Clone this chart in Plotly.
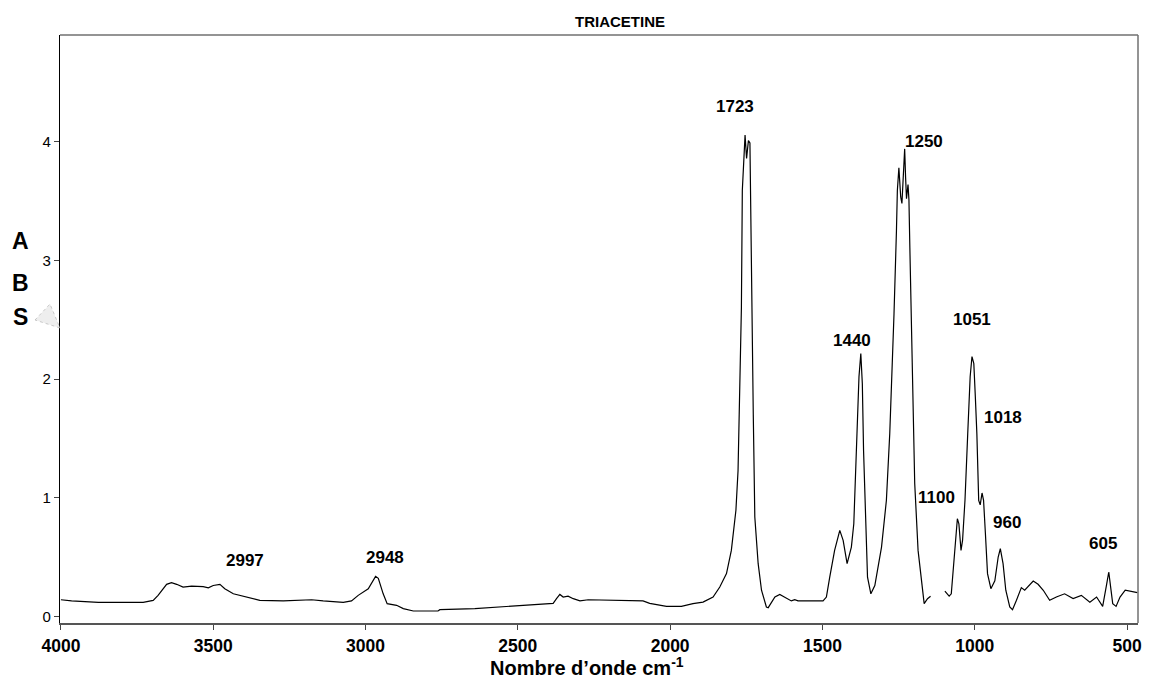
import plotly.graph_objects as go

# ---- data ----
wavenumber = [4000, 3965, 3877, 3730, 3697, 3681, 3653, 3637, 3620, 3599, 3571, 3533, 3516, 3500,
              3478, 3462, 3434, 3402, 3347, 3270, 3177, 3139, 3073, 3046, 3024, 2991, 2977, 2967,
              2958, 2942, 2929, 2898, 2876, 2843, 2762, 2756, 2641, 2537, 2461, 2384, 2373, 2362,
              2351, 2335, 2318, 2296, 2269, 2187, 2089, 2067, 2012, 1963, 1925, 1892, 1859, 1837,
              1815, 1799, 1784, 1777, 1771, 1766, 1763, 1757, 1754, 1749, 1743, 1738, 1736, 1733,
              1727, 1722, 1711, 1700, 1684, 1678, 1656, 1640, 1618, 1602, 1591, 1580, 1498, 1487,
              1476, 1460, 1443, 1432, 1419, 1405, 1397, 1389, 1380, 1374, 1369, 1365, 1359, 1352,
              1341, 1328, 1306, 1290, 1279, 1270, 1265, 1257, 1254, 1249, 1243, 1239, 1235, 1230,
              1227, 1224, 1219, 1216, 1213, 1209, 1205, 1203, 1197, 1186, 1175, 1166, 1155, 1145,
              1120,
              1098, 1084, 1077, 1068, 1057, 1052, 1045, 1040, 1032, 1023, 1015, 1009, 1003, 998,
              993, 987, 982, 976, 971, 965, 958, 947, 934, 923, 916, 907, 898, 885, 876, 863, 847,
              836, 808, 792, 775, 754, 732, 705, 677, 650, 622, 600, 580, 567, 560, 554, 547, 536,
              523, 506, 490, 466]
absorbance = [0.14, 0.13, 0.118, 0.118, 0.135, 0.177, 0.27, 0.284, 0.27, 0.247, 0.255, 0.25, 0.24, 0.26,
              0.27, 0.233, 0.19, 0.17, 0.135, 0.13, 0.14, 0.13, 0.118, 0.13, 0.177, 0.233, 0.30, 0.337,
              0.32, 0.19, 0.107, 0.093, 0.065, 0.045, 0.045, 0.056, 0.065, 0.084, 0.10, 0.11, 0.149, 0.185,
              0.163, 0.17, 0.149, 0.13, 0.14, 0.135, 0.13, 0.11, 0.084, 0.084, 0.107, 0.12, 0.163, 0.247,
              0.36, 0.556, 0.894, 1.23, 1.85, 2.6, 3.59, 4.01, 4.056, 3.86, 4.01, 3.99, 3.51, 2.83,
              1.7, 0.837, 0.444, 0.22, 0.079, 0.073, 0.163, 0.185, 0.152, 0.13, 0.14, 0.13, 0.13, 0.163,
              0.33, 0.556, 0.725, 0.64, 0.444, 0.584, 0.78, 1.40, 2.02, 2.215, 1.96, 1.40, 0.837, 0.33,
              0.19, 0.26, 0.584, 0.978, 1.54, 2.10, 2.55, 3.25, 3.59, 3.78, 3.535, 3.48, 3.68, 3.94,
              3.70, 3.52, 3.64, 3.51, 3.11, 2.55, 1.99, 1.68, 1.12, 0.556, 0.276, 0.107, 0.149, 0.17,
              None,
              0.213, 0.171, 0.19, 0.50, 0.823, 0.78, 0.556, 0.64, 0.978, 1.54, 2.02, 2.19, 2.13, 1.85,
              1.54, 0.978, 0.94, 1.04, 0.978, 0.70, 0.36, 0.233, 0.30, 0.50, 0.57, 0.444, 0.22, 0.079,
              0.056, 0.135, 0.242, 0.22, 0.298, 0.27, 0.22, 0.135, 0.163, 0.19, 0.15, 0.177, 0.12,
              0.163, 0.084, 0.27, 0.374, 0.25, 0.107, 0.084, 0.163, 0.22, 0.214, 0.20]

peak_labels = ["1723", "1250", "1440", "1051", "1018", "1100", "960", "605", "2997", "2948"]
label_x = [1788, 1167, 1404, 1010, 908, 1125, 895, 580, 3396, 2936]
label_y = [4.30, 4.005, 2.327, 2.504, 1.678, 1.003, 0.793, 0.616, 0.472, 0.497]

x_ticks = [4000, 3500, 3000, 2500, 2000, 1500, 1000, 500]
y_ticks = [0, 1, 2, 3, 4]

# ---- layout geometry ----
W, H = 1156, 680
ML, MR, MT, MB = 60, 18, 35, 57
PW, PH = W - ML - MR, H - MT - MB


def px(x):
    return (x - ML) / PW


def py(y):
    return (H - MB - y) / PH


FONT = "Liberation Sans, Arial, Helvetica, sans-serif"

fig = go.Figure()
fig.add_trace(go.Scatter(x=wavenumber, y=absorbance, mode="lines",
                         line=dict(color="black", width=1.2), connectgaps=False,
                         showlegend=False, hoverinfo="x+y"))

for t, lx, ly in zip(peak_labels, label_x, label_y):
    fig.add_annotation(x=lx, y=ly, text=t, showarrow=False, xanchor="center", yanchor="middle",
                       font=dict(family=FONT, size=17, color="black", weight="bold"))

# title
fig.add_annotation(x=px(620), y=py(21), xref="paper", yref="paper", text="TRIACETINE",
                   showarrow=False, xanchor="center", yanchor="middle",
                   font=dict(family=FONT, size=15, color="black", weight="bold"))
# x axis title
fig.add_annotation(x=px(587), y=py(666), xref="paper", yref="paper",
                   text="Nombre d’onde cm<sup>-1</sup>", showarrow=False,
                   xanchor="center", yanchor="middle", borderpad=0,
                   font=dict(family=FONT, size=20, color="black", weight="bold"))
# vertical "ABS" letters
for letter, yy in zip(["A", "B", "S"], [241, 283, 317]):
    fig.add_annotation(x=px(20), y=py(yy), xref="paper", yref="paper", text=letter,
                       showarrow=False, xanchor="center", yanchor="middle",
                       font=dict(family=FONT, size=23, color="black", weight="bold"))

# faint triangle artifact next to the S
fig.add_shape(type="path", xref="paper", yref="paper",
              path=f"M {px(35)} {py(320)} L {px(50)} {py(304)} L {px(60)} {py(328)} Z",
              fillcolor="#eeeeee", line=dict(color="#aaaaaa", width=0.6, dash="dot"), layer="above")

# top and right frame lines (gray)
fig.add_shape(type="line", xref="paper", yref="paper", x0=0, x1=1, y0=1, y1=1,
              line=dict(color="#707070", width=1.5))
fig.add_shape(type="line", xref="paper", yref="paper", x0=1, x1=1, y0=0, y1=1,
              line=dict(color="#707070", width=1.5))

fig.update_layout(
    width=W, height=H,
    margin=dict(l=ML, r=MR, t=MT, b=MB, pad=0),
    paper_bgcolor="white", plot_bgcolor="white",
    font=dict(family=FONT, color="black"),
    xaxis=dict(range=[4003, 464], tickvals=x_ticks, ticktext=[str(v) for v in x_ticks],
               showgrid=False, zeroline=False, showline=True, linecolor="#555555", linewidth=1.5,
               ticks="outside", ticklen=5, tickcolor="#444444", tickwidth=1,
               ticklabelstandoff=1,
               tickfont=dict(family=FONT, size=17.5, color="black", weight="bold")),
    yaxis=dict(range=[-0.056, 4.90], tickvals=y_ticks, ticktext=[str(v) for v in y_ticks],
               showgrid=False, zeroline=False, showline=True, linecolor="black", linewidth=1.2,
               ticks="outside", ticklen=5, tickcolor="#444444", tickwidth=1,
               tickfont=dict(family=FONT, size=15, color="black")),
)

fig.write_html("out.html")
